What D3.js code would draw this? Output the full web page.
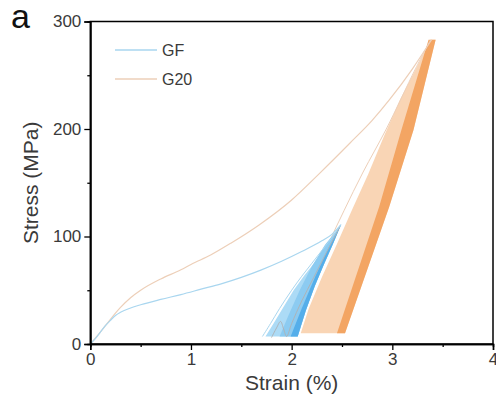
<!DOCTYPE html>
<html>
<head>
<meta charset="utf-8">
<script src="https://cdn.jsdelivr.net/npm/d3@7"></script>
<style>
  body { margin: 0; background: #fff; }
  text { font-family: "Liberation Sans", Arial, sans-serif; }
</style>
</head>
<body>
<div id="chart-stress"></div>
<script>
"use strict";

// axis ticks
var xTicks = [0, 1, 2, 3, 4];
var xMinorTicks = [0.5, 1.5, 2.5, 3.5];
var yTicks = [0, 100, 200, 300];
var yMinorTicks = [50, 150, 250];

// legend
var seriesNames = ["GF", "G20"];

// monotonic loading, [strain %, stress MPa]
var gfLoading = [[0, 0], [0.05, 5], [0.1, 11], [0.15, 17], [0.2, 22], [0.25, 26.5], [0.3, 29.5], [0.4, 33.5],
	[0.5, 36.5], [0.7, 41.5], [0.9, 46], [1.1, 51], [1.3, 56], [1.5, 62], [1.7, 69], [1.9, 77],
	[2.1, 86], [2.3, 96], [2.4, 102], [2.49, 111]];
var g20Loading = [[0, 0], [0.1, 11], [0.2, 23], [0.3, 34], [0.4, 43], [0.5, 50], [0.7, 60.5], [0.9, 69],
	[1.0, 74], [1.2, 83], [1.4, 94], [1.68, 111], [2.0, 134], [2.28, 159], [2.58, 187],
	[2.8, 208], [2.97, 227], [3.2, 256], [3.39, 283]];

// cyclic part GF: envelope of the loops
var gfFirstReload = [[1.71, 7], [1.79, 19], [1.88, 33], [2.0, 50], [2.1, 63], [2.2, 75], [2.3, 87], [2.4, 99], [2.49, 111]];
var gfLoopLeft = [[1.74, 7], [1.82, 19], [1.91, 33], [2.02, 50], [2.12, 63], [2.22, 75], [2.31, 87], [2.41, 99], [2.49, 111]];
var gfMidLeft = [[1.88, 7], [1.97, 27], [2.08, 50], [2.2, 72], [2.33, 92], [2.45, 106]];
var gfLoopRight = [[2.06, 7], [2.14, 31], [2.23, 54], [2.32, 74], [2.41, 93], [2.49, 111]];
var gfDarkLeft = [[1.99, 7], [2.1, 33], [2.24, 64], [2.37, 90], [2.47, 108]];
var gfGrayLoop = [[1.8, 6], [1.85, 15], [1.89, 21], [1.92, 14], [1.95, 7], [2.0, 19], [2.1, 40], [2.22, 62], [2.35, 86], [2.48, 109]];

// cyclic part G20
var g20FirstReload = [[2.05, 10], [2.12, 33], [2.22, 60], [2.36, 92], [2.52, 124], [2.71, 160], [2.94, 200], [3.23, 256], [3.38, 283]];
var g20LoopLeft = [[2.09, 10], [2.17, 33], [2.3, 62], [2.45, 93], [2.6, 125], [2.76, 158], [2.92, 194], [3.08, 228], [3.24, 257], [3.38, 283]];
var g20DarkLeft = [[2.45, 10], [2.87, 128], [3.09, 199], [3.36, 283]];
var g20LoopRight = [[2.53, 10], [2.97, 128], [3.21, 199], [3.43, 283]];

var colors = {
	gfLine: "#a9d6ef", gfFill: "#acdbf6", gfMid: "#8ccbf1", gfDark: "#55aeea",
	g20Line: "#edcfb8", g20Fill: "#f9d5b5", g20Dark: "#f3a563",
	gray: "#aeb4b8"
};

function drawChart() {
	var width = 496, height = 403;
	var svg = d3.select("#chart-stress").append("svg")
		.attr("width", width).attr("height", height);

	var margin = {top: 21.5, right: 3, bottom: 59, left: 90.3};

	var x = d3.scaleLinear().domain([0, 4]).range([margin.left, width - margin.right]);
	var y = d3.scaleLinear().domain([0, 300]).range([height - margin.bottom, margin.top]);

	var smooth = d3.line()
		.curve(d3.curveMonotoneX)
		.x(function(d) { return x(d[0]); })
		.y(function(d) { return y(d[1]); });

	var loopLine = d3.line()
		.curve(d3.curveCatmullRom)
		.x(function(d) { return x(d[0]); })
		.y(function(d) { return y(d[1]); });

	// a band between two boundaries, both running bottom -> top
	function band(left, right) {
		var pts = left.concat(right.slice().reverse());
		return d3.line()
			.x(function(d) { return x(d[0]); })
			.y(function(d) { return y(d[1]); })(pts) + "Z";
	}

	var g = svg.append("g");

	// G20 loops
	g.append("path").attr("d", band(g20LoopLeft, g20LoopRight)).attr("fill", colors.g20Fill);
	g.append("path").attr("d", band(g20DarkLeft, g20LoopRight)).attr("fill", colors.g20Dark);
	g.append("path").attr("d", loopLine(g20FirstReload))
		.attr("fill", "none").attr("stroke", colors.g20Line).attr("stroke-width", 1);

	// GF loops
	g.append("path").attr("d", band(gfLoopLeft, gfLoopRight)).attr("fill", colors.gfFill);
	g.append("path").attr("d", band(gfMidLeft, gfLoopRight)).attr("fill", colors.gfMid);
	g.append("path").attr("d", band(gfDarkLeft, gfLoopRight)).attr("fill", colors.gfDark);
	g.append("path").attr("d", loopLine(gfFirstReload))
		.attr("fill", "none").attr("stroke", colors.gfLine).attr("stroke-width", 1);
	g.append("path").attr("d", loopLine(gfGrayLoop))
		.attr("fill", "none").attr("stroke", colors.gray).attr("stroke-width", 1);

	// monotonic curves
	g.append("path").attr("d", smooth(g20Loading))
		.attr("fill", "none").attr("stroke", colors.g20Line).attr("stroke-width", 1.2);
	g.append("path").attr("d", smooth(gfLoading))
		.attr("fill", "none").attr("stroke", colors.gfLine).attr("stroke-width", 1.2);

	// frame
	svg.append("rect")
		.attr("x", x(0)).attr("y", y(300))
		.attr("width", x(4) - x(0)).attr("height", y(0) - y(300))
		.attr("fill", "none").attr("stroke", "#000").attr("stroke-width", 1.5);

	// axes
	svg.append("g")
		.attr("transform", "translate(0," + y(0) + ")")
		.call(d3.axisBottom(x).tickValues(xTicks).tickSize(6).tickPadding(3).tickFormat(d3.format("d")));
	svg.append("g")
		.attr("transform", "translate(0," + y(0) + ")")
		.call(d3.axisBottom(x).tickValues(xMinorTicks).tickSize(3).tickFormat(""));
	svg.append("g")
		.attr("transform", "translate(" + x(0) + ",0)")
		.call(d3.axisLeft(y).tickValues(yTicks).tickSize(6).tickPadding(3).tickFormat(d3.format("d")));
	svg.append("g")
		.attr("transform", "translate(" + x(0) + ",0)")
		.call(d3.axisLeft(y).tickValues(yMinorTicks).tickSize(3).tickFormat(""));

	svg.selectAll(".domain").attr("stroke", "#000").attr("stroke-width", 1.5);
	svg.selectAll(".tick line").attr("stroke", "#000").attr("stroke-width", 1.3);
	svg.selectAll(".tick text")
		.style("font-family", "'Liberation Sans', Arial, sans-serif")
		.style("font-size", "17px")
		.attr("fill", "#3a3a3a");

	// axis titles
	svg.append("text")
		.attr("x", (x(0) + x(4)) / 2).attr("y", 390)
		.attr("text-anchor", "middle")
		.style("font-size", "21px").attr("fill", "#3a3a3a")
		.text("Strain (%)");
	svg.append("text")
		.attr("transform", "translate(38," + ((y(0) + y(300)) / 2) + ") rotate(-90)")
		.attr("text-anchor", "middle")
		.style("font-size", "21px").attr("fill", "#3a3a3a")
		.text("Stress (MPa)");

	// panel label
	svg.append("text")
		.attr("x", 11).attr("y", 28)
		.style("font-size", "34px").attr("fill", "#111")
		.text("a");

	// legend
	var legendColors = [colors.gfLine, colors.g20Line];
	var legend = svg.selectAll(".legend")
		.data(seriesNames)
		.enter().append("g")
		.attr("class", "legend")
		.attr("transform", function(d, i) { return "translate(115," + (50 + i * 29) + ")"; });
	legend.append("line")
		.attr("x1", 0).attr("x2", 42).attr("y1", 0).attr("y2", 0)
		.attr("stroke", function(d, i) { return legendColors[i]; })
		.attr("stroke-width", 1.5);
	legend.append("text")
		.attr("x", 47).attr("y", 6)
		.style("font-size", "16px").attr("fill", "#3a3a3a")
		.text(function(d) { return d; });
}

drawChart();
</script>
</body>
</html>
